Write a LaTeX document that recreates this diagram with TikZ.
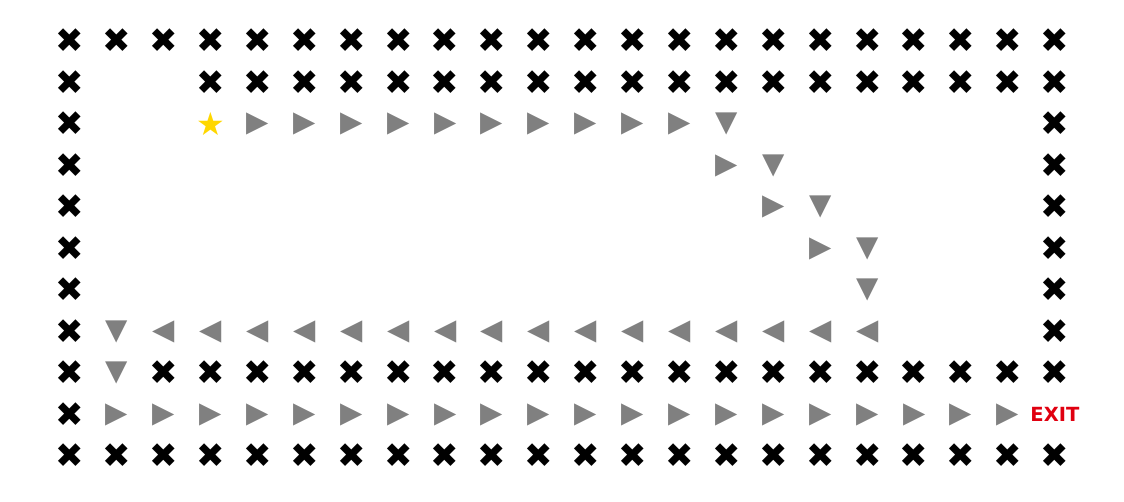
\documentclass[tikz,border=0pt]{standalone}
\usepackage{fontspec}
\newfontfamily\dv{DejaVu Sans}
\definecolor{arrowgray}{HTML}{808080}
\definecolor{stargold}{HTML}{FFD700}
\definecolor{exitred}{HTML}{E00010}
\tikzset{
  cell/.style={inner sep=0pt},
  wall/.style={cell, text=black, font=\dv\fontsize{34}{34}\selectfont},
  mv/.style={cell, text=arrowgray, font=\dv\fontsize{29}{29}\selectfont},
  startcell/.style={cell, text=stargold, font=\dv\fontsize{32}{32}\selectfont},
  exitcell/.style={inner sep=0pt, text=exitred, font=\dv\bfseries\fontsize{19.5}{19.5}\selectfont},
}
\newcommand{\W}[2]{\node[wall] (w-#1-#2) at ({70+46.9*#2},{41+41.5*#1}) {✖};}
\newcommand{\R}[2]{\node[mv] (m-#1-#2) at ({70+46.9*#2},{41+41.5*#1}) {▶};}
\newcommand{\Lf}[2]{\node[mv] (m-#1-#2) at ({70+46.9*#2},{41+41.5*#1}) {◀};}
\newcommand{\D}[2]{\node[mv] (m-#1-#2) at ({70+46.9*#2},{41+41.5*#1}) {▼};}
\begin{document}
\begin{tikzpicture}[x=1pt,y=-1pt]
\useasboundingbox (0,0) rectangle (1124,502);
% walls
\foreach \c in {0,...,21} {\W{0}{\c}\W{10}{\c}}
\W{1}{0}
\foreach \c in {3,...,21} {\W{1}{\c}}
\foreach \r in {2,...,9} {\W{\r}{0}}
\foreach \r in {2,...,7} {\W{\r}{21}}
\foreach \c in {2,...,21} {\W{8}{\c}}
% start
\node[startcell] (start) at ({70+46.9*3},{41+41.5*2}) {★};
% path
\foreach \c in {4,...,13} {\R{2}{\c}}
\D{2}{14}
\R{3}{14}\D{3}{15}
\R{4}{15}\D{4}{16}
\R{5}{16}\D{5}{17}
\D{6}{17}
\foreach \c in {2,...,17} {\Lf{7}{\c}}
\D{7}{1}
\D{8}{1}
\foreach \c in {1,...,20} {\R{9}{\c}}
% exit
\node[exitcell] (exit) at ({70+46.9*21},{41+41.5*9}) {EXIT};
\end{tikzpicture}
\end{document}
